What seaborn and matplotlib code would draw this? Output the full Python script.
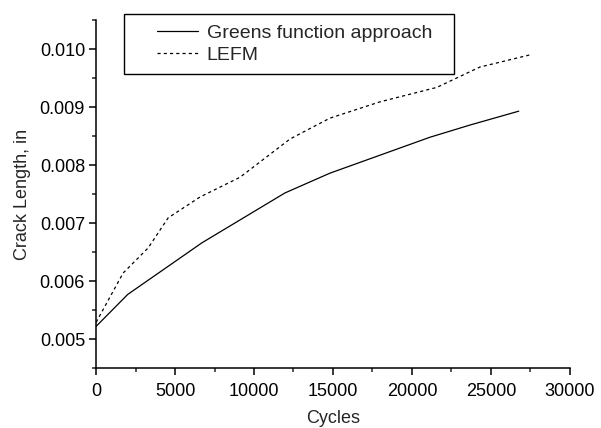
import matplotlib
matplotlib.use("Agg")
import matplotlib.pyplot as plt
from matplotlib.ticker import MultipleLocator
from matplotlib.patches import Rectangle
import numpy as np
import pandas as pd
import seaborn as sns

# Greens function approach (solid)
greens_cycles = [0, 2000, 6700, 11960, 14800, 17970, 21140, 23670, 26770]
greens_length = [0.00522, 0.00577, 0.00666, 0.00752, 0.00786, 0.00817, 0.00848, 0.00869, 0.00893]

# LEFM (dashed)
lefm_cycles = [0, 1710, 3290, 4560, 6580, 9110, 12280, 14810, 17970, 21580, 24300, 27470]
lefm_length = [0.00529, 0.00614, 0.00657, 0.00709, 0.00745, 0.00779, 0.00845, 0.00881, 0.00909, 0.00934, 0.00969, 0.0099]

series_names = ["Greens function approach", "LEFM"]

df = pd.concat([
    pd.DataFrame({"Cycles": greens_cycles, "Length": greens_length, "series": series_names[0]}),
    pd.DataFrame({"Cycles": lefm_cycles, "Length": lefm_length, "series": series_names[1]}),
])

sns.set_style("ticks")
plt.rcParams["font.family"] = ["Liberation Sans", "DejaVu Sans"]

W, H = 601, 428
fig = plt.figure(figsize=(W / 100, H / 100), dpi=100)
ax = fig.add_axes([0.16, 0.14, 0.788, 0.813])

for name, ls in zip(series_names, ["-", (0, (2.5, 2.5))]):
    sub = df[df["series"] == name]
    sns.lineplot(data=sub, x="Cycles", y="Length", ax=ax, color="black",
                 linewidth=0.9, linestyle=ls, label=name, sort=False)

ax.set_xlim(0, 30000)
ax.set_ylim(0.0045, 0.0105)
ax.xaxis.set_major_locator(MultipleLocator(5000))
ax.xaxis.set_minor_locator(MultipleLocator(2500))
ax.yaxis.set_minor_locator(MultipleLocator(0.0005))
ax.set_yticks([0.005, 0.006, 0.007, 0.008, 0.009, 0.010])
ax.set_yticklabels(["0.005", "0.006", "0.007", "0.008", "0.009", "0.010"])

ax.tick_params(which="major", length=5, width=1.1, labelsize=13, colors="black")
ax.tick_params(axis="x", which="major", pad=6)
ax.tick_params(axis="y", which="major", pad=3)
ax.tick_params(which="minor", length=3, width=1.1)
for side in ["top", "right"]:
    ax.spines[side].set_visible(False)
for side in ["left", "bottom"]:
    ax.spines[side].set_linewidth(1.1)
    ax.spines[side].set_color("black")

ax.set_xlabel("Cycles", fontsize=13, labelpad=7)
ax.set_ylabel("Crack Length, in", fontsize=13, labelpad=6)

# legend with a hand-sized box as in the original
leg = ax.legend(loc="upper left", bbox_to_anchor=(157 / W, 1 - 24 / H),
                bbox_transform=fig.transFigure, fontsize=14, frameon=False,
                handlelength=2.1, borderpad=0, labelspacing=0.25,
                borderaxespad=0, handletextpad=0.45)
fig.patches.append(Rectangle((124 / W, 1 - 74 / H), 330 / W, 60 / H,
                             transform=fig.transFigure, fill=False,
                             edgecolor="black", linewidth=1.0))

fig.savefig("out.png", dpi=100)
